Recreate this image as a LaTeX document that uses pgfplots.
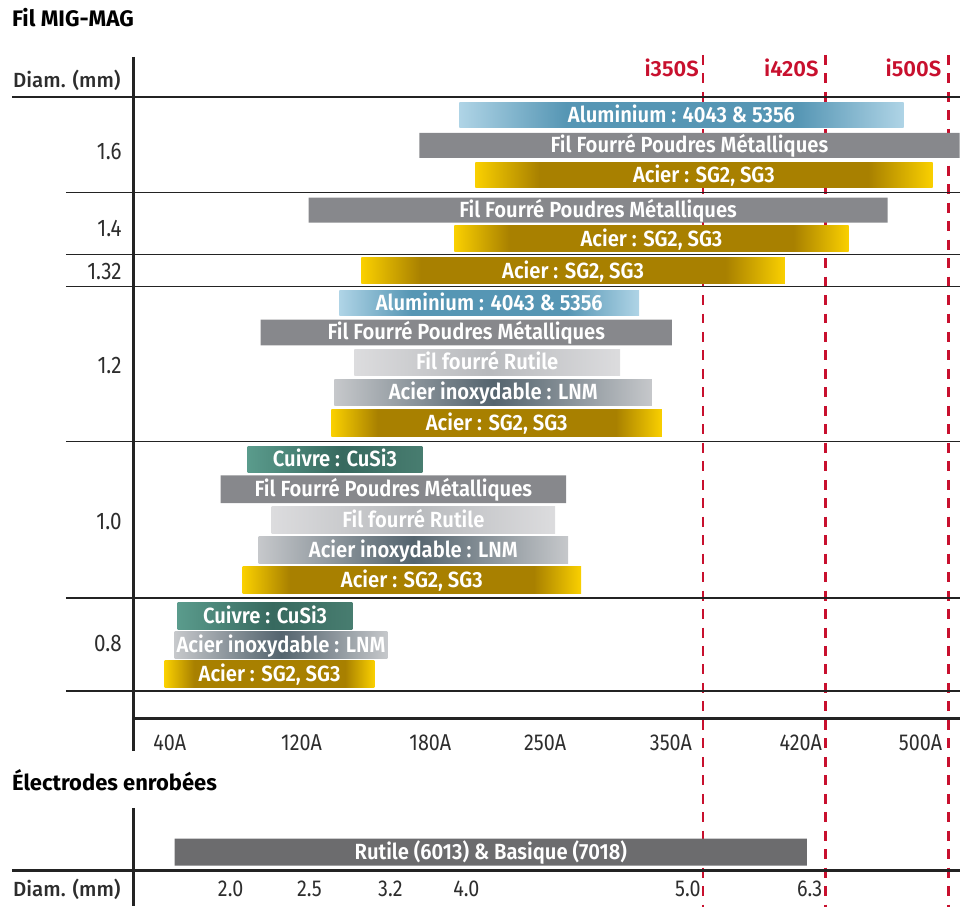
\documentclass[border=0pt]{standalone}
\usepackage{pgfplots}
\pgfplotsset{compat=1.18}
\usepackage{fontspec}
\setmainfont{Fira Sans}
\newfontfamily\semib{Fira Sans SemiBold}
\newfontfamily\medf{Fira Sans Medium}
\newfontfamily\condf{Fira Sans}[FakeStretch=0.86]
\newfontfamily\condsb{Fira Sans SemiBold}[FakeStretch=0.92]

\definecolor{acY}{RGB}{250,208,0}
\definecolor{acD}{RGB}{168,128,0}
\definecolor{alL}{RGB}{175,212,230}
\definecolor{alD}{RGB}{86,150,180}
\definecolor{ffpm}{RGB}{135,136,140}
\definecolor{rutL}{RGB}{220,220,222}
\definecolor{rutD}{RGB}{184,186,189}
\definecolor{inoxL}{RGB}{198,200,203}
\definecolor{inoxD}{RGB}{84,100,110}
\definecolor{cuL}{RGB}{90,155,140}
\definecolor{cuD}{RGB}{55,105,95}
\definecolor{cuR}{RGB}{72,125,112}
\definecolor{elec}{RGB}{108,108,110}
\definecolor{redd}{RGB}{200,16,46}
\definecolor{lin}{RGB}{35,35,35}
\definecolor{txt}{RGB}{45,45,45}

\pgfdeclarehorizontalshading{acier}{100bp}{color(0bp)=(acY); color(25bp)=(acY); color(32bp)=(acD); color(68bp)=(acD); color(75bp)=(acY); color(100bp)=(acY)}
\pgfdeclarehorizontalshading{alu}{100bp}{color(0bp)=(alL); color(25bp)=(alL); color(37bp)=(alD); color(63bp)=(alD); color(75bp)=(alL); color(100bp)=(alL)}
\pgfdeclarehorizontalshading{rutile}{100bp}{color(0bp)=(rutL); color(25bp)=(rutL); color(50bp)=(rutD); color(75bp)=(rutL); color(100bp)=(rutL)}
\pgfdeclarehorizontalshading{inox}{100bp}{color(0bp)=(inoxL); color(25bp)=(inoxL); color(42bp)=(inoxD!70!inoxL); color(50bp)=(inoxD); color(58bp)=(inoxD!70!inoxL); color(75bp)=(inoxL); color(100bp)=(inoxL)}
\pgfdeclarehorizontalshading{cuivre}{100bp}{color(0bp)=(cuL); color(25bp)=(cuL); color(52bp)=(cuD); color(75bp)=(cuR); color(100bp)=(cuR)}

\tikzset{
  barlbl/.style={text=white, anchor=base, inner sep=0pt, font=\condsb\fontsize{22}{22}\selectfont},
  Ac/.style={draw=none, shade, shading=acier, shading angle=0},
  Al/.style={draw=none, shade, shading=alu, shading angle=0},
  Ru/.style={draw=none, shade, shading=rutile, shading angle=0},
  In/.style={draw=none, shade, shading=inox, shading angle=0},
  Cu/.style={draw=none, shade, shading=cuivre, shading angle=0},
  FF/.style={draw=none, fill=ffpm},
  EL/.style={draw=none, fill=elec},
  rdash/.style={redd, line width=2.6pt, dash pattern=on 10pt off 8.5pt},
  sep/.style={lin, line width=1.5pt},
  rowl/.style={anchor=base east, inner sep=0pt, text=txt, font=\condf\fontsize{24}{24}\selectfont},
  tickl/.style={anchor=base, inner sep=0pt, text=txt, font=\condf\fontsize{23}{23}\selectfont},
  machl/.style={anchor=base east, inner sep=0pt, text=redd, font=\semib\fontsize{22}{22}\selectfont},
}
% x1 x2 y1 y2 style label
\newcommand{\gbar}[6]{%
  \addplot[#5] coordinates {(#1,#3) (#2,#3) (#2,#4) (#1,#4) (#1,#3)};
  \node[barlbl] at (axis cs:{(#1+#2)/2},{(#3+#4)/2+7.5}) {#6};
}

\begin{document}
\begin{tikzpicture}
\begin{axis}[x=1pt, y=1pt, xmin=0, xmax=961, ymin=0, ymax=908, y dir=reverse,
  hide axis, clip=false]
\addplot[draw=none, forget plot] coordinates {(0,0) (961,908)};

% red dashed lines (behind bars)
\draw[rdash] (704,55) -- (704,908);
\draw[rdash] (827,55) -- (827,908);
\draw[rdash] (950,55) -- (950,908);

% frame lines
\draw[lin, line width=2.4pt] (12,97) -- (961,97);
\draw[sep] (66,193) -- (961,193);
\draw[sep] (66,255) -- (961,255);
\draw[sep] (66,287) -- (961,287);
\draw[sep] (66,442) -- (961,442);
\draw[sep] (66,599) -- (961,599);
\draw[sep] (66,692) -- (961,692);
\draw[lin, line width=2.6pt] (134,57) -- (134,752);
\draw[lin, line width=3pt] (134,720) -- (961,720);
\draw[lin, line width=2.6pt] (134,809) -- (134,907);
\draw[lin, line width=2.8pt] (12,872) -- (961,872);

% bars: diameter 1.6
\gbar{460}{905}{103}{128}{Al}{Aluminium : 4043 \& 5356}
\gbar{420}{961}{133}{158}{FF}{Fil Fourré Poudres Métalliques}
\gbar{476}{934}{163}{188}{Ac}{Acier : SG2, SG3}
% 1.4
\gbar{309}{889}{198}{223}{FF}{Fil Fourré Poudres Métalliques}
\gbar{455}{850}{226}{252}{Ac}{Acier : SG2, SG3}
% 1.32
\gbar{362}{786}{258}{284}{Ac}{Acier : SG2, SG3}
% 1.2
\gbar{340}{640}{291}{316}{Al}{Aluminium : 4043 \& 5356}
\gbar{261}{673}{320}{346}{FF}{Fil Fourré Poudres Métalliques}
\gbar{355}{621}{350}{376}{Ru}{Fil fourré Rutile}
\gbar{335}{653}{380}{406}{In}{Acier inoxydable : LNM}
\gbar{332}{663}{410}{437}{Ac}{Acier : SG2, SG3}
% 1.0
\gbar{248}{423}{447}{473}{Cu}{Cuivre : CuSi3}
\gbar{221}{567}{476}{504}{FF}{Fil Fourré Poudres Métalliques}
\gbar{272}{556}{507}{534}{Ru}{Fil fourré Rutile}
\gbar{259}{569}{537}{564}{In}{Acier inoxydable : LNM}
\gbar{243}{582}{567}{594}{Ac}{Acier : SG2, SG3}
% 0.8
\gbar{178}{353}{603}{630}{Cu}{Cuivre : CuSi3}
\gbar{175}{388}{632}{660}{In}{Acier inoxydable : LNM}
\gbar{165}{375}{662}{689}{Ac}{Acier : SG2, SG3}
% electrodes
\gbar{175}{808}{840}{867}{EL}{Rutile (6013) \& Basique (7018)}

% titles
\node[anchor=base west, inner sep=0pt, font=\bfseries\fontsize{22.5}{22.5}\selectfont] at (12,27) {Fil MIG-MAG};
\node[anchor=base west, inner sep=0pt, font=\bfseries\fontsize{22}{22}\selectfont] at (12,792) {Électrodes enrobées};
\node[anchor=base west, inner sep=0pt, text=txt, font=\medf\fontsize{20.5}{20.5}\selectfont] at (13,88) {Diam. (mm)};
\node[anchor=base west, inner sep=0pt, text=txt, font=\medf\fontsize{20.5}{20.5}\selectfont] at (13,898) {Diam. (mm)};

% machine labels
\node[machl] at (700,77) {i350S};
\node[machl] at (820,77) {i420S};
\node[machl] at (943,77) {i500S};

% row labels
\node[rowl] at (122,160) {1.6};
\node[rowl] at (122,237) {1.4};
\node[rowl] at (122,280) {1.32};
\node[rowl] at (122,374) {1.2};
\node[rowl] at (122,530) {1.0};
\node[rowl] at (122,653) {0.8};

% current ticks
\node[tickl] at (170,752) {40A};
\node[tickl] at (302,752) {120A};
\node[tickl] at (431,752) {180A};
\node[tickl] at (546,752) {250A};
\node[tickl] at (672,752) {350A};
\node[tickl] at (802,752) {420A};
\node[tickl] at (922,752) {500A};

% electrode diameters
\node[tickl] at (231,898) {2.0};
\node[tickl] at (310,898) {2.5};
\node[tickl] at (391,898) {3.2};
\node[tickl] at (467,898) {4.0};
\node[tickl] at (689,898) {5.0};
\node[tickl] at (811,898) {6.3};
\end{axis}
\end{tikzpicture}
\end{document}
